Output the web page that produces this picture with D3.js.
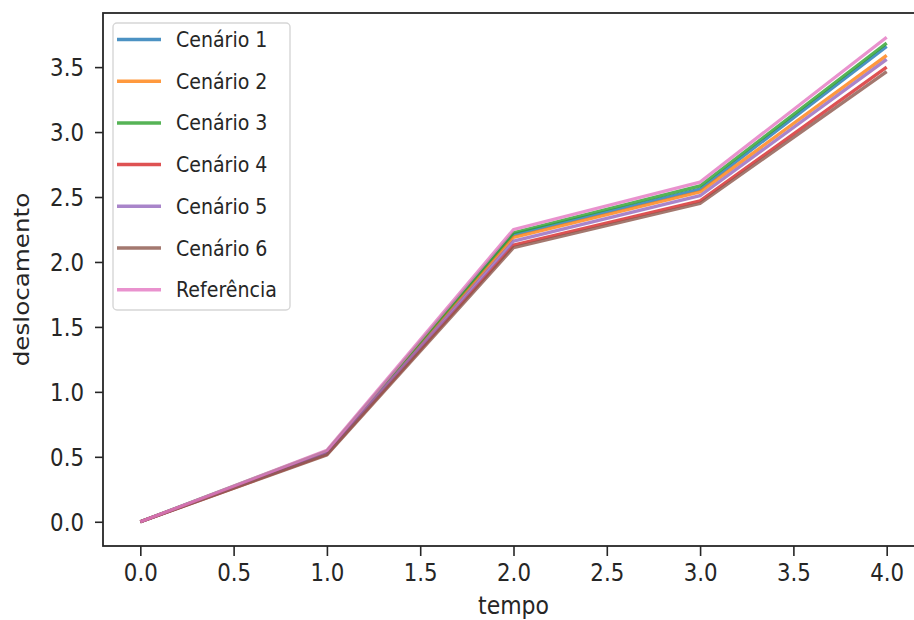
<!DOCTYPE html>
<html>
<head>
<meta charset="utf-8">
<script src="https://cdn.jsdelivr.net/npm/d3@7"></script>
<style>
    body { margin: 0; background: #fff; }
    text { font-family: "DejaVu Sans", sans-serif; fill: #262626; }
</style>
</head>
<body>
<div id="wrapper"></div>
<script>
// data
const tempo = [0, 1, 2, 3, 4];
const cenario1 = [0, 0.540, 2.210, 2.560, 3.660];
const cenario2 = [0, 0.535, 2.190, 2.540, 3.590];
const cenario3 = [0, 0.545, 2.225, 2.585, 3.685];
const cenario4 = [0, 0.520, 2.130, 2.470, 3.500];
const cenario5 = [0, 0.530, 2.160, 2.510, 3.560];
const cenario6 = [0, 0.515, 2.110, 2.450, 3.465];
const referencia = [0, 0.550, 2.250, 2.615, 3.730];

const seriesNames = ["Cenário 1", "Cenário 2", "Cenário 3", "Cenário 4", "Cenário 5", "Cenário 6", "Referência"];
const seriesValues = [cenario1, cenario2, cenario3, cenario4, cenario5, cenario6, referencia];
const colors = ["#1f77b4", "#ff7f0e", "#2ca02c", "#d62728", "#9467bd", "#8c564b", "#e377c2"];
const xTicks = [0, 0.5, 1, 1.5, 2, 2.5, 3, 3.5, 4];
const yTicks = [0, 0.5, 1, 1.5, 2, 2.5, 3, 3.5];

function build() {
    var dimension = {
        width: 914,
        height: 620,
        margin: { top: 13, right: -10, bottom: 74, left: 103 }
    }
    dimension.boundedWidth = dimension.width - dimension.margin.left - dimension.margin.right;
    dimension.boundedHeight = dimension.height - dimension.margin.top - dimension.margin.bottom;

    const wrapper = d3.select("#wrapper")
        .append("svg")
        .attr("width", dimension.width)
        .attr("height", dimension.height)
        .style("display", "block");

    const bounds = wrapper.append("g")
        .attr("transform", `translate(${dimension.margin.left},${dimension.margin.top})`);

    // matplotlib style 5% margins
    var xExt = d3.extent(tempo);
    var xPad = (xExt[1] - xExt[0]) * 0.05;
    var yExt = d3.extent(seriesValues.flat());
    var yPad = (yExt[1] - yExt[0]) * 0.05;

    const x = d3.scaleLinear()
        .domain([xExt[0] - xPad, xExt[1] + xPad])
        .range([0, dimension.boundedWidth]);
    const y = d3.scaleLinear()
        .domain([yExt[0] - yPad, yExt[1] + yPad])
        .range([dimension.boundedHeight, 0]);

    // lines
    const line = d3.line()
        .x((d, i) => x(tempo[i]))
        .y(d => y(d));

    bounds.selectAll("path.serie")
        .data(seriesValues)
        .enter()
        .append("path")
        .attr("class", "serie")
        .attr("d", d => line(d))
        .attr("fill", "none")
        .attr("stroke", (d, i) => colors[i])
        .attr("stroke-width", 3.3)
        .attr("stroke-opacity", 0.8)
        .attr("stroke-linejoin", "round");

    // axes
    const xAxis = bounds.append("g")
        .attr("transform", `translate(0,${dimension.boundedHeight})`)
        .call(d3.axisBottom(x).tickValues(xTicks).tickFormat(d3.format(".1f")).tickSize(10).tickSizeOuter(0));
    const yAxis = bounds.append("g")
        .call(d3.axisLeft(y).tickValues(yTicks).tickFormat(d3.format(".1f")).tickSize(8).tickSizeOuter(0));

    [xAxis, yAxis].forEach(ax => {
        ax.select(".domain").remove();
        ax.selectAll(".tick line").attr("stroke", "#262626").attr("stroke-width", 1.6);
        ax.selectAll(".tick text")
            .attr("fill", "#262626")
            .style("font-size", "22px")
            .style("font-family", "DejaVu Sans");
    });
    xAxis.selectAll(".tick text")
        .attr("dy", null)
        .attr("y", 0)
        .attr("transform", "translate(0,35) scale(0.97,1.12)");
    yAxis.selectAll(".tick text")
        .attr("x", 0)
        .attr("dy", "0.36em")
        .attr("transform", "translate(-19,0) scale(0.97,1.12)");

    // spines
    bounds.append("rect")
        .attr("width", dimension.boundedWidth)
        .attr("height", dimension.boundedHeight)
        .attr("fill", "none")
        .attr("stroke", "#262626")
        .attr("stroke-width", 1.8);

    // axis labels
    wrapper.append("text")
        .attr("transform", `translate(${dimension.margin.left + x.range()[1] / 2},614) scale(1,1.1)`)
        .attr("text-anchor", "middle")
        .style("font-size", "22px")
        .text("tempo");
    wrapper.append("text")
        .attr("transform", `translate(29,${dimension.margin.top + dimension.boundedHeight / 2}) rotate(-90) scale(1.12,0.95)`)
        .attr("text-anchor", "middle")
        .style("font-size", "22px")
        .text("deslocamento");

    // legend
    const legend = wrapper.append("g")
        .attr("transform", "translate(113,23)");
    legend.append("rect")
        .attr("width", 177)
        .attr("height", 287)
        .attr("rx", 4)
        .attr("fill", "#fff")
        .attr("fill-opacity", 0.8)
        .attr("stroke", "#d6d6d6")
        .attr("stroke-width", 1.4);

    const item = legend.selectAll("g.item")
        .data(seriesNames)
        .enter()
        .append("g")
        .attr("class", "item")
        .attr("transform", (d, i) => `translate(0,${16.5 + i * 41.7})`);
    item.append("line")
        .attr("x1", 4)
        .attr("x2", 48)
        .attr("stroke", (d, i) => colors[i])
        .attr("stroke-width", 3.5)
        .attr("stroke-opacity", 0.8);
    item.append("text")
        .attr("transform", "translate(63,0) scale(0.95,1.05)")
        .attr("dy", "0.36em")
        .style("font-size", "20px")
        .text(d => d);
}

build();
</script>
</body>
</html>
